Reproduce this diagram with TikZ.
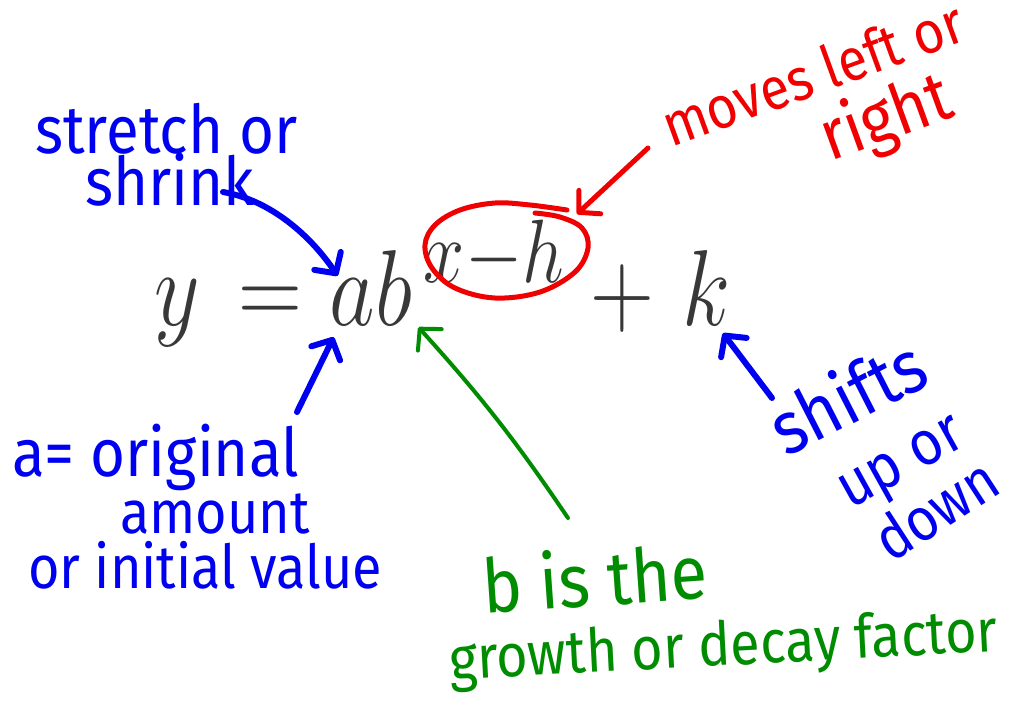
\documentclass[tikz,border=0pt]{standalone}
\usepackage{fix-cm}
\usepackage{fontspec}
\usepackage{graphicx}
\usetikzlibrary{arrows.meta}
\newfontfamily\handfont{Fira Sans}
\definecolor{inkblue}{RGB}{0,0,240}
\definecolor{inkred}{RGB}{240,0,0}
\definecolor{inkgreen}{RGB}{0,140,0}
\newcommand\hw[2]{\scalebox{1}[1.12]{\fontsize{#1}{#1}\handfont #2}}
\newcommand\eqpart[2]{\scalebox{0.82}[1]{\fontsize{#1}{#1}\selectfont$#2$}}
\begin{document}
\begin{tikzpicture}[x=1pt,y=-1pt,
  hand/.style={inner sep=0pt, anchor=base west},
  eq/.style={inner sep=0pt, anchor=base, text=black!78},
  ink/.style={line width=#1, line cap=round, line join=round},
  tip/.style={-{Straight Barb[length=15pt,width=32pt,round]}}
]
\useasboundingbox (0,0) rectangle (1011,707);
\fill[white] (0,0) rectangle (1011,707);

% equation
\node[eq] (ey)    at (177,325) {\eqpart{108}{y}};
\node[eq] (eeq)   at (270,325) {\eqpart{108}{=}};
\node[eq] (eab)   at (371,325) {\eqpart{108}{ab}};
\node[eq] (eexp)  at (494,282) {\eqpart{90}{x{-}h}};
\node[eq] (eplus) at (622,325) {\eqpart{108}{+}};
\node[eq] (ek)    at (707,325) {\eqpart{108}{k}};

% handwritten labels
\node[hand, text=inkblue] (stretch) at (35,153) {\hw{60}{stretch or}};
\node[hand, text=inkblue] (shrink)  at (85,205) {\hw{60}{shrink}};
\node[hand, text=inkred, rotate=20] (moves) at (671,148) {\hw{53}{moves left or}};
\node[hand, text=inkred, rotate=20] (right) at (830,162) {\hw{63}{right}};
\node[hand, text=inkblue] (orig)    at (12,476)  {\hw{60}{a= original}};
\node[hand, text=inkblue] (amount)  at (120,533) {\hw{54}{amount}};
\node[hand, text=inkblue] (initial) at (28,588)  {\hw{54}{or initial value}};
\node[hand, text=inkgreen, rotate=4] (bis)    at (484,614) {\hw{67}{b is the}};
\node[hand, text=inkgreen, rotate=3] (growth) at (450,680) {\hw{54}{growth or decay factor}};
\node[hand, text=inkblue, rotate=27] (shifts) at (786,458) {\hw{66}{shifts}};
\node[hand, text=inkblue, rotate=29] (upor)   at (850,510) {\hw{56}{up or}};
\node[hand, text=inkblue, rotate=33] (down)   at (891,564) {\hw{54}{down}};

% free ends of the connectors
\coordinate (tshrink) at (223,192);
\coordinate (ta)      at (297,412);
\coordinate (tb)      at (568,518);
\coordinate (tk)      at (772,398);
\coordinate (tmove)   at (648,148);
\coordinate (ring)    at (577,214);

% red ring round the exponent
\draw[ink=5pt, inkred] plot[smooth, tension=0.6] coordinates {
  (567,210) (530,205) (495,203) (460,210) (435,225) (425,245) (432,268)
  (455,288) (495,298) (540,292) (575,272) (588,248) (582,228) (560,217) (535,213)};

% connectors
\draw[ink=6pt, inkblue, tip] (tshrink) .. controls (270,200) and (310,235) .. ([shift={(8,26)}]eab.north west);
\draw[ink=6pt, inkblue, tip] (ta) -- ([shift={(4,12)}]eab.south west);
\draw[ink=4pt, inkgreen, tip] (tb) to[bend right=4] ([shift={(6,2)}]eab.south east);
\draw[ink=6pt, inkblue, tip] (tk) -- ([shift={(16,8)}]ek.south);
\draw[ink=5pt, inkred, tip] (tmove) -- (ring);
\end{tikzpicture}
\end{document}
